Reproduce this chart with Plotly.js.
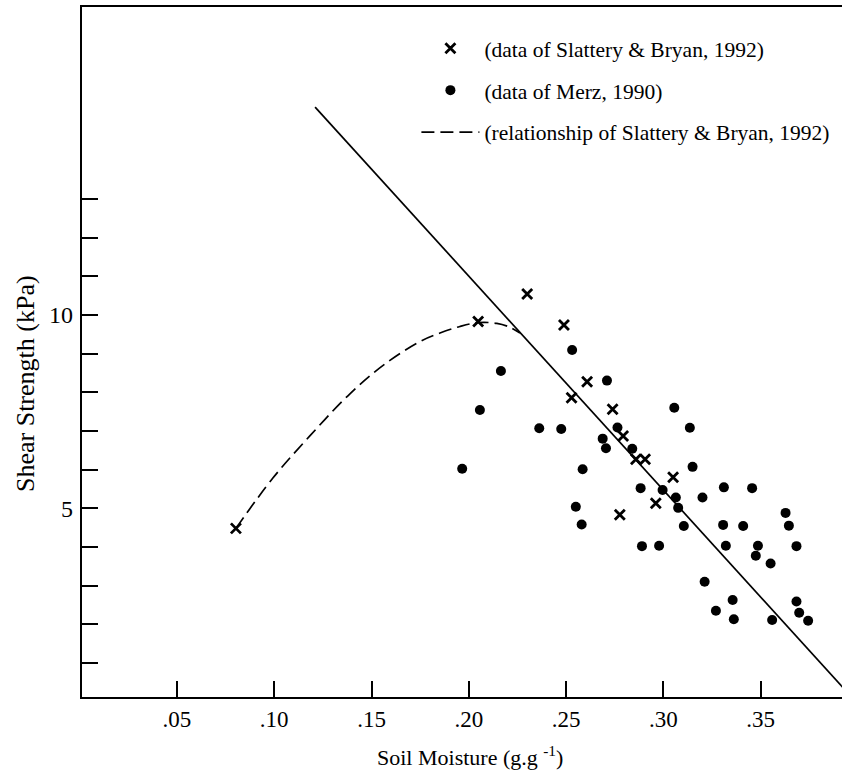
<!DOCTYPE html>
<html><head><meta charset="utf-8">
<script src="https://cdn.plot.ly/plotly-3.0.1.min.js"></script>
<style>html,body{margin:0;padding:0;background:#fff}</style>
</head><body><div id="chart" style="width:842px;height:774px"></div>
<script>
// Slattery & Bryan (1992) data (x markers)
const slatteryX = [0.0803, 0.2048, 0.2300, 0.2489, 0.2528, 0.2608, 0.2739, 0.2793, 0.2859, 0.2906, 0.3050, 0.2961, 0.2776];
const slatteryY = [4.48, 9.83, 10.54, 9.74, 7.86, 8.27, 7.56, 6.87, 6.27, 6.27, 5.80, 5.13, 4.83];
// Merz (1990) data (dots)
const merzX = [0.2531, 0.2165, 0.2057, 0.2710, 0.2362, 0.2475, 0.2764, 0.2688, 0.2705, 0.1966, 0.2585, 0.2840, 0.3056, 0.3136, 0.3150, 0.2883, 0.2996, 0.3064, 0.3201, 0.3311, 0.3456, 0.3076, 0.2550, 0.2580, 0.3105, 0.3307, 0.3410, 0.3628, 0.3645, 0.2890, 0.2978, 0.3321, 0.3486, 0.3684, 0.3475, 0.3551, 0.3212, 0.3356, 0.3270, 0.3362, 0.3559, 0.3684, 0.3698, 0.3744];
const merzY = [9.09, 8.55, 7.54, 8.30, 7.07, 7.05, 7.09, 6.80, 6.55, 6.02, 6.01, 6.54, 7.60, 7.08, 6.07, 5.52, 5.47, 5.28, 5.28, 5.54, 5.52, 5.01, 5.04, 4.58, 4.54, 4.57, 4.54, 4.88, 4.55, 4.02, 4.03, 4.03, 4.03, 4.02, 3.77, 3.57, 3.10, 2.63, 2.35, 2.13, 2.11, 2.59, 2.30, 2.09];
// Relationship of Slattery & Bryan (1992), dashed curve
const curveX = [0.0803, 0.0993, 0.1183, 0.1389, 0.1569, 0.1749, 0.1852, 0.1954, 0.2047, 0.2144, 0.2211, 0.2263];
const curveY = [4.48, 5.78, 6.87, 7.96, 8.73, 9.31, 9.53, 9.70, 9.80, 9.78, 9.68, 9.53];
// Solid straight line
const fitX = [0.121, 0.400];
const fitY = [15.37, -0.06];
// Ticks
const xTickVals = [0.05, 0.10, 0.15, 0.20, 0.25, 0.30, 0.35];
const xTickText = ['.05', '.10', '.15', '.20', '.25', '.30', '.35'];
const yTickVals = [5, 10];
const yTickText = ['5', '10'];
const yMinorTickVals = [1, 2, 3, 4, 6, 7, 8, 9, 11, 12, 13];

const FONT = 'Liberation Serif, Times New Roman, serif';

const traces = [
  {x: slatteryX, y: slatteryY, type: 'scatter', mode: 'markers', name: '(data of Slattery &amp; Bryan, 1992)',
   legendgroup: 'a', legendrank: 1,
   marker: {symbol: 'x-thin', size: 10, color: '#000', line: {width: 2.8, color: '#000'}}},
  {x: merzX, y: merzY, type: 'scatter', mode: 'markers', name: '(data of Merz, 1990)',
   legendgroup: 'b', legendrank: 2,
   marker: {symbol: 'circle', size: 10, color: '#000'}},
  {x: curveX, y: curveY, type: 'scatter', mode: 'lines', name: '(relationship of Slattery &amp; Bryan, 1992)',
   legendgroup: 'c', legendrank: 3,
   line: {shape: 'spline', color: '#000', width: 1.7, dash: '13px,6px'}},
  {x: fitX, y: fitY, type: 'scatter', mode: 'lines', showlegend: false,
   line: {color: '#000', width: 1.7}}
];

const layout = {
  width: 842, height: 774,
  margin: {l: 82, r: 0, t: 7, b: 77},
  paper_bgcolor: '#fff', plot_bgcolor: '#fff',
  font: {family: FONT, size: 20, color: '#000'},
  showlegend: true,
  legend: {x: 0.44, y: 0.97, xanchor: 'left', yanchor: 'top', bgcolor: 'rgba(0,0,0,0)',
           font: {family: FONT, size: 21.5, color: '#000'}, traceorder: 'grouped', tracegroupgap: 11,
           itemwidth: 58},
  xaxis: {range: [0.0012, 0.3918], showgrid: false, zeroline: false,
          showline: true, linecolor: '#000', linewidth: 2.2, mirror: true,
          ticks: 'inside', ticklen: 16, tickwidth: 2, tickcolor: '#000',
          tickvals: xTickVals, ticktext: xTickText, ticklabelstandoff: 0,
          tickfont: {family: FONT, size: 23, color: '#000'}},
  yaxis: {range: [0.12, 17.96], showgrid: false, zeroline: false,
          showline: true, linecolor: '#000', linewidth: 2.2,
          ticks: 'inside', ticklen: 16, tickwidth: 2, tickcolor: '#000',
          tickvals: yTickVals, ticktext: yTickText, ticklabelstandoff: 2,
          tickfont: {family: FONT, size: 24, color: '#000'},
          minor: {tickmode: 'array', tickvals: yMinorTickVals, ticks: 'inside', ticklen: 16,
                  tickwidth: 2, tickcolor: '#000', showgrid: false}},
  annotations: [
    {text: 'Shear Strength (kPa)', xref: 'paper', yref: 'paper', x: -0.075, y: 0.4536,
     xanchor: 'center', yanchor: 'middle', textangle: -90, showarrow: false,
     font: {family: FONT, size: 26, color: '#000'}},
    {text: 'Soil Moisture (g.g <sup>-1</sup>)', xref: 'paper', yref: 'paper', x: 0.5105, y: -0.085,
     xanchor: 'center', yanchor: 'middle', showarrow: false,
     font: {family: FONT, size: 22, color: '#000'}}
  ]
};

Plotly.newPlot('chart', traces, layout, {displayModeBar: false, staticPlot: true});
</script>
</body></html>
